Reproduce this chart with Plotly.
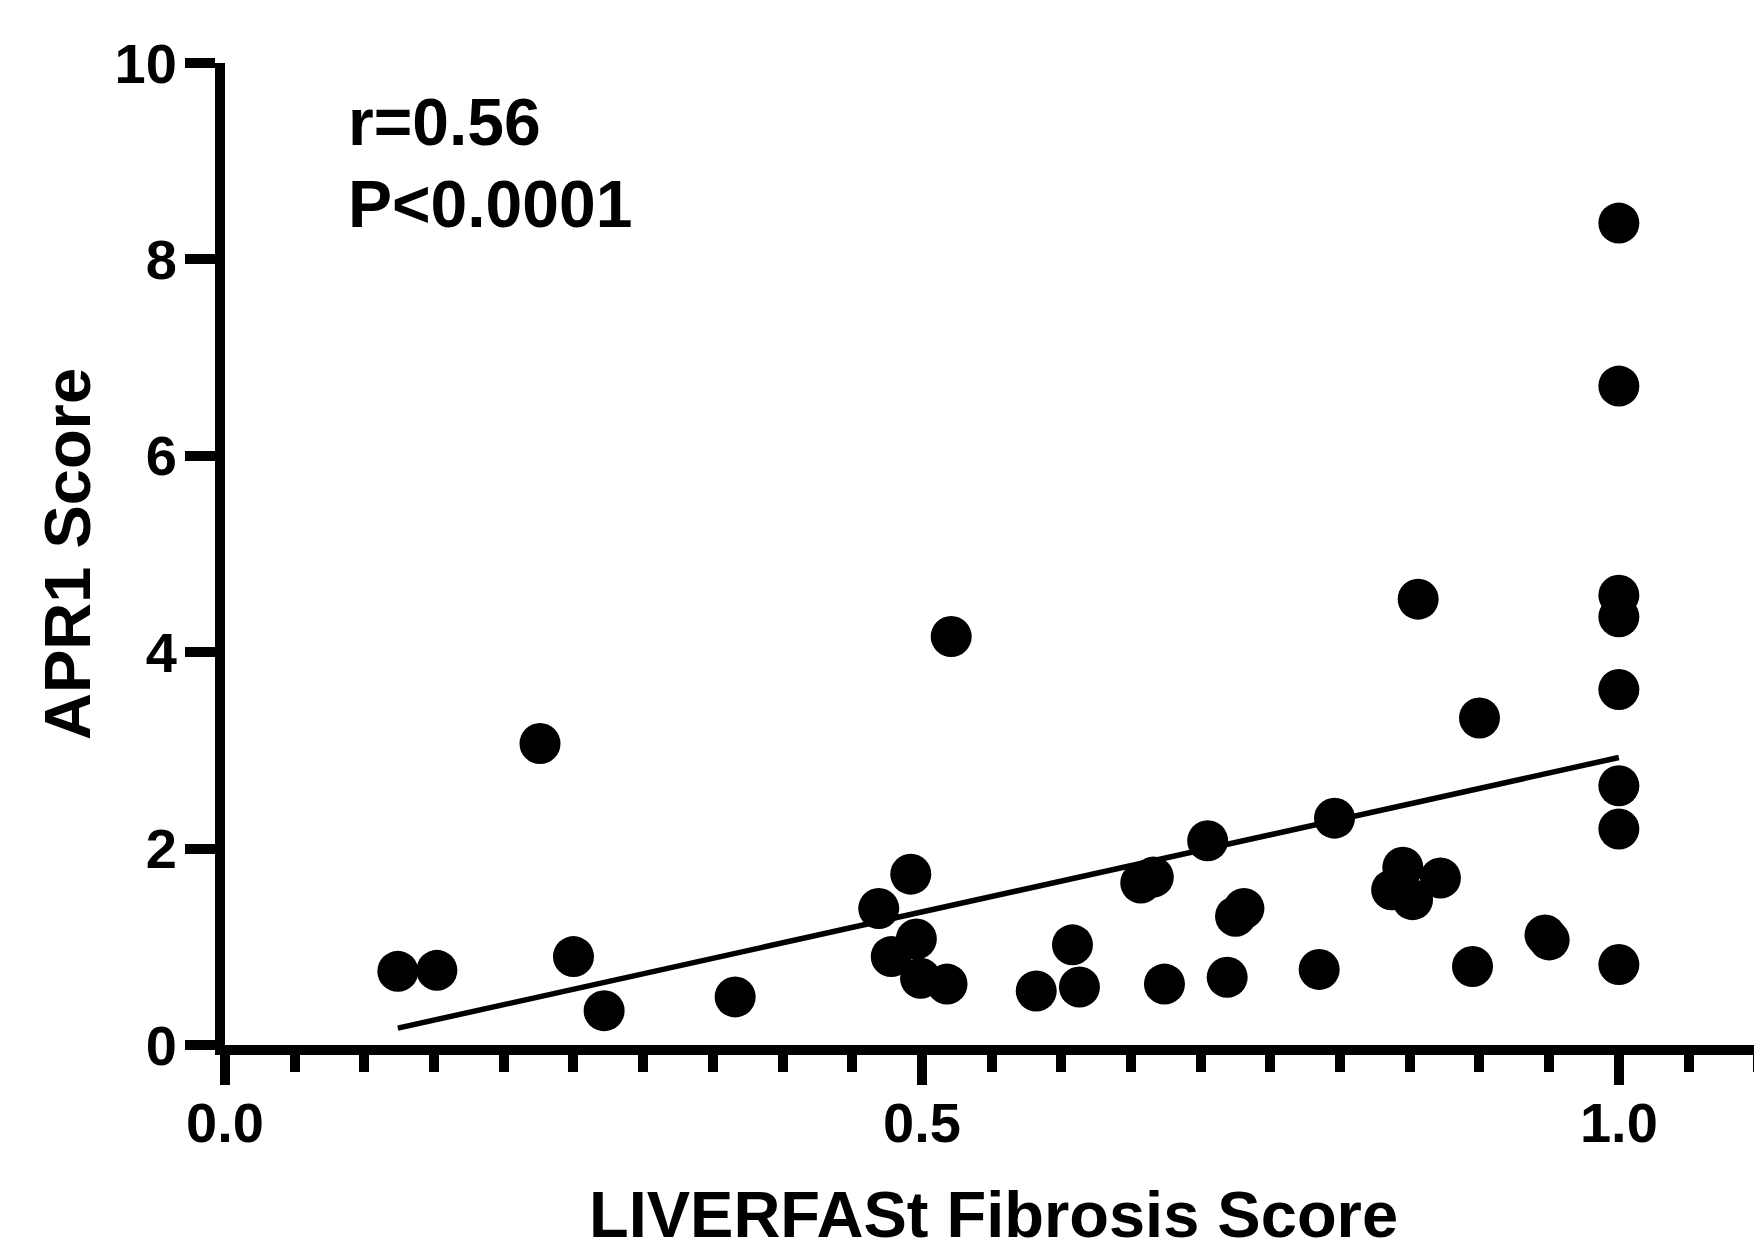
import numpy as np
import plotly.graph_objects as go

# LIVERFASt fibrosis score (x) and APRI score (y)
liverfast_score = [0.124, 0.152, 0.226, 0.250, 0.272, 0.366, 0.469, 0.478, 0.492, 0.496,
                   0.499, 0.518, 0.521, 0.582, 0.608, 0.613, 0.657, 0.666, 0.674, 0.705,
                   0.719, 0.725, 0.731, 0.785, 0.796, 0.837, 0.845, 0.852, 0.856, 0.872,
                   0.895, 0.900, 0.947, 0.950,
                   1.0, 1.0, 1.0, 1.0, 1.0, 1.0, 1.0, 1.0]
apri_score = [0.75, 0.76, 3.07, 0.90, 0.35, 0.49, 1.39, 0.90, 1.74, 1.08,
              0.68, 0.62, 4.16, 0.55, 1.02, 0.59, 1.65, 1.71, 0.62, 2.08,
              0.69, 1.31, 1.39, 0.77, 2.31, 1.58, 1.81, 1.48, 4.54, 1.70,
              0.80, 3.33, 1.12, 1.07,
              8.37, 6.71, 4.58, 4.36, 3.62, 2.64, 2.20, 0.82]

x_tick_vals = [0.0, 0.5, 1.0]
x_tick_text = ["0.0", "0.5", "1.0"]
y_tick_vals = [0, 2, 4, 6, 8, 10]
y_tick_text = ["0", "2", "4", "6", "8", "10"]

x_title = "LIVERFASt Fibrosis Score"
y_title = "APR1 Score"
stat_r = "r=0.56"
stat_p = "P<0.0001"

FONT = "Liberation Sans, Arial, Helvetica, sans-serif"

x_arr = np.array(liverfast_score)
y_arr = np.array(apri_score)
slope, intercept = np.polyfit(x_arr, y_arr, 1)
fit_x = np.array([x_arr.min(), x_arr.max()])
fit_y = slope * fit_x + intercept

fig = go.Figure()
fig.add_trace(go.Scatter(
    x=fit_x, y=fit_y, mode="lines",
    line=dict(color="black", width=5.5), hoverinfo="skip", showlegend=False))
fig.add_trace(go.Scatter(
    x=liverfast_score, y=apri_score, mode="markers",
    marker=dict(color="black", size=41, line=dict(width=0)), showlegend=False))

fig.add_annotation(x=0.0865, y=9.40, xref="x", yref="y", text=stat_r, showarrow=False,
                   xanchor="left", yanchor="middle",
                   font=dict(family=FONT, size=66, color="black", weight="bold"))
fig.add_annotation(x=0.0865, y=8.56, xref="x", yref="y", text=stat_p, showarrow=False,
                   xanchor="left", yanchor="middle",
                   font=dict(family=FONT, size=66, color="black", weight="bold"))

axis_common = dict(
    showline=True, linewidth=10, linecolor="black", mirror=False,
    ticks="outside", tickwidth=10, tickcolor="black",
    showgrid=False, zeroline=False,
    tickfont=dict(family=FONT, size=56, color="black", weight="bold"),
)

# the page body has an 8px margin, so the figure is 8px smaller than the window
fig.update_layout(
    width=1754, height=1243,
    margin=dict(l=217, r=0, t=55, b=206),
    paper_bgcolor="white", plot_bgcolor="white",
    showlegend=False,
    xaxis=dict(
        range=[0, 1.1027],
        tickvals=x_tick_vals, ticktext=x_tick_text, ticklen=30,
        ticklabelstandoff=-10,
        minor=dict(dtick=0.05, tick0=0, ticks="outside", ticklen=17,
                   tickwidth=10, tickcolor="black", showgrid=False),
        title=dict(text=x_title, standoff=50,
                   font=dict(family=FONT, size=65, color="black", weight="bold")),
        **axis_common),
    yaxis=dict(
        range=[0, 10],
        tickvals=y_tick_vals, ticktext=y_tick_text, ticklen=30,
        ticklabelstandoff=-3,
        title=dict(text=y_title, standoff=7,
                   font=dict(family=FONT, size=65, color="black", weight="bold")),
        **axis_common),
)

fig.write_html("out.html")
